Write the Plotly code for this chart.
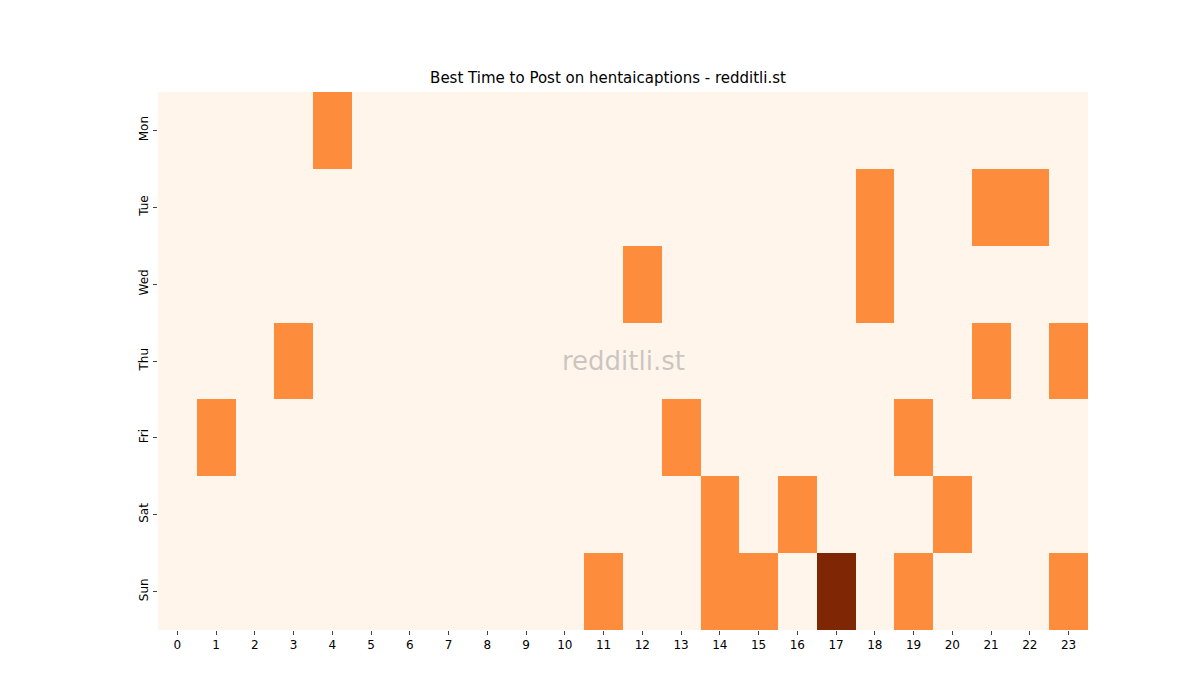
import plotly.graph_objects as go

days = ["Mon", "Tue", "Wed", "Thu", "Fri", "Sat", "Sun"]
hours = list(range(24))

# posts score per day/hour (0 = none, 1 = good, 2 = best)
mon = [0,0,0,0,1,0,0,0,0,0,0,0,0,0,0,0,0,0,0,0,0,0,0,0]
tue = [0,0,0,0,0,0,0,0,0,0,0,0,0,0,0,0,0,0,1,0,0,1,1,0]
wed = [0,0,0,0,0,0,0,0,0,0,0,0,1,0,0,0,0,0,1,0,0,0,0,0]
thu = [0,0,0,1,0,0,0,0,0,0,0,0,0,0,0,0,0,0,0,0,0,1,0,1]
fri = [0,1,0,0,0,0,0,0,0,0,0,0,0,1,0,0,0,0,0,1,0,0,0,0]
sat = [0,0,0,0,0,0,0,0,0,0,0,0,0,0,1,0,1,0,0,0,1,0,0,0]
sun = [0,0,0,0,0,0,0,0,0,0,0,1,0,0,1,1,0,2,0,1,0,0,0,1]

z = [mon, tue, wed, thu, fri, sat, sun]

colors = [[0, "#fff5eb"], [0.5, "#fd8d3c"], [1, "#7f2704"]]

fig = go.Figure(go.Heatmap(z=z, x=hours, y=days, colorscale=colors, zmin=0, zmax=2,
                           showscale=False, xgap=0, ygap=0))

fig.update_layout(
    width=1200, height=700,
    paper_bgcolor="white", plot_bgcolor="white",
    margin=dict(l=150, r=120, t=84, b=78),
    font=dict(family="DejaVu Sans", size=12, color="black"),
    title=dict(text="Best Time to Post on hentaicaptions - redditli.st", x=0.5, xanchor="center",
               y=1 - 70 / 700, yanchor="middle", font=dict(size=15)),
    xaxis=dict(tickmode="array", tickvals=hours, ticks="outside", ticklen=4, showgrid=False,
               zeroline=False),
    yaxis=dict(autorange="reversed", tickangle=-90, ticks="outside", ticklen=4, showgrid=False,
               zeroline=False),
)

fig.add_annotation(text="redditli.st", x=0.5, y=0.5, xref="paper", yref="paper",
                   showarrow=False, font=dict(size=26, color="rgba(150,150,150,0.5)"))

fig.write_html("out.html")
